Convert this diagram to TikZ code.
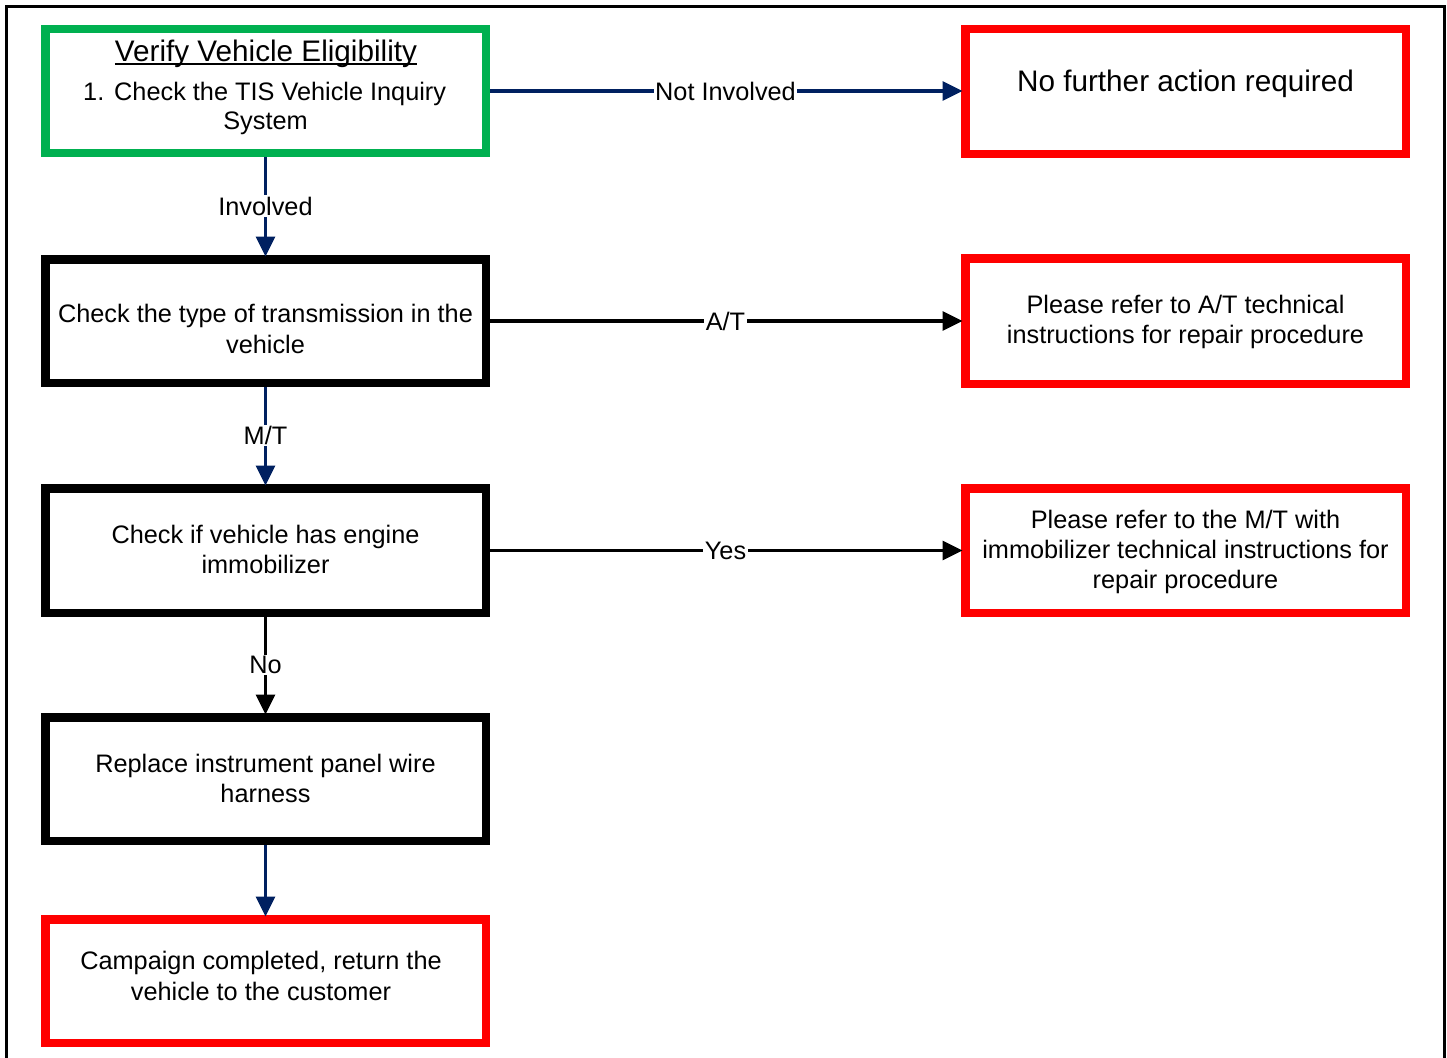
\documentclass[tikz,border=0pt]{standalone}
\usepackage{fontspec}
\setmainfont{Liberation Sans}
\usetikzlibrary{arrows.meta}
\definecolor{navy}{HTML}{002060}
\definecolor{grn}{HTML}{00B050}
\definecolor{rd}{HTML}{FF0000}
\begin{document}
\begin{tikzpicture}[x=1pt,y=-1pt,
 box/.style={draw, line width=8.5pt, minimum width=440.5pt, minimum height=123.5pt, inner sep=0pt, fill=white},
 greenbox/.style={box, draw=grn},
 redbox/.style={box, draw=rd},
 blackbox/.style={box, draw=black},
 txt/.style={anchor=base, inner sep=0pt, font=\fontsize{25.3}{30.5}\selectfont},
 bigtxt/.style={txt, font=\fontsize{29.7}{35}\selectfont},
 conn/.style={line width=3.2pt, -{Triangle[length=20pt,width=19pt]}, shorten >=-1.5pt},
 navyconn/.style={conn, color=navy},
 blackconn/.style={conn, color=black},
 lbl/.style={fill=white, inner sep=1.5pt, text=black, font=\fontsize{25.3}{30.5}\selectfont},
]
\useasboundingbox (0,0) rectangle (1447,1057);
\draw[line width=2.5pt] (6.5,1062) -- (6.5,6.5) -- (1444.5,6.5) -- (1444.5,1062);

% boxes
\node[greenbox] (b1) at (265.5,91) {};
\node[blackbox] (b2) at (265.5,321) {};
\node[blackbox, minimum height=124.5pt] (b3) at (265.5,550.5) {};
\node[blackbox] (b4) at (265.5,779) {};
\node[redbox] (b5) at (265.5,981) {};
\node[redbox, minimum height=124.5pt] (r1) at (1185.5,91.5) {};
\node[redbox, minimum height=125.5pt] (r2) at (1185.5,321) {};
\node[redbox, minimum height=124.5pt] (r3) at (1185.5,550.5) {};

% texts
\node[bigtxt] (t1a) at (266,61) {Verify Vehicle Eligibility};
\draw[line width=1.5pt] ([yshift=-2.8pt]t1a.base west) -- ([yshift=-2.8pt]t1a.base east);
\node[txt, anchor=base west] (t1n) at (83,100) {1.};
\node[txt, anchor=base west] (t1b) at (114,100) {Check the TIS Vehicle Inquiry};
\node[txt] (t1c) at (265.5,129) {System};

\node[txt] (t2a) at (265.5,322) {Check the type of transmission in the};
\node[txt] (t2b) at (265.5,353) {vehicle};

\node[txt] (t3a) at (265.5,543) {Check if vehicle has engine};
\node[txt] (t3b) at (265.5,573) {immobilizer};

\node[txt] (t4a) at (265.5,772) {Replace instrument panel wire};
\node[txt] (t4b) at (265.5,802) {harness};

\node[txt] (t5a) at (261,969) {Campaign completed, return the};
\node[txt] (t5b) at (261,1000) {vehicle to the customer};

\node[bigtxt] (tr1) at (1185.5,91) {No further action required};

\node[txt] (tr2a) at (1185.5,313) {Please refer to A/T technical};
\node[txt] (tr2b) at (1185.5,343) {instructions for repair procedure};

\node[txt] (tr3a) at (1185.5,528) {Please refer to the M/T with};
\node[txt] (tr3b) at (1185.5,558) {immobilizer technical instructions for};
\node[txt] (tr3c) at (1185.5,588) {repair procedure};

% connectors
\draw[navyconn] (b1.south) -- (b2.north) node[midway, lbl] (l1) {Involved};
\draw[navyconn] (b1.east) -- (b1.east -| r1.west) node[midway, lbl] (l2) {Not Involved};
\draw[blackconn] (b2.east) -- (b2.east -| r2.west) node[midway, lbl] (l3) {A/T};
\draw[navyconn] (b2.south) -- (b3.north) node[midway, lbl] (l4) {M/T};
\draw[blackconn] (b3.east) -- (b3.east -| r3.west) node[midway, lbl] (l5) {Yes};
\draw[blackconn] (b3.south) -- (b4.north) node[midway, lbl] (l6) {No};
\draw[navyconn] (b4.south) -- (b5.north);
\end{tikzpicture}
\end{document}
